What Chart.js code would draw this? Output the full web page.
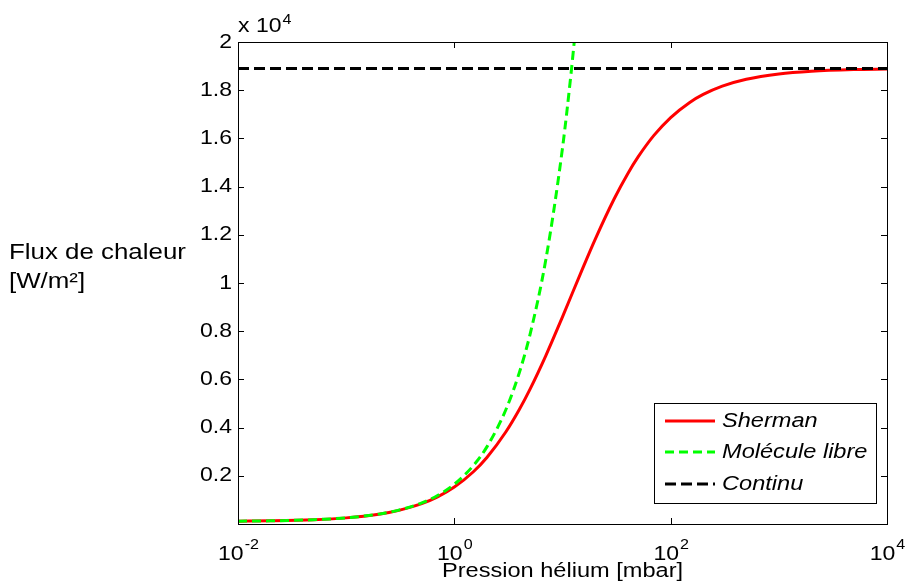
<!DOCTYPE html>
<html>
<head>
<meta charset="utf-8">
<script src="https://cdn.jsdelivr.net/npm/chart.js@4.4.1/dist/chart.umd.min.js"></script>
<style>
  body { margin: 0; background: #fff; }
  canvas { display: block; }
</style>
</head>
<body>
<canvas id="myChart" width="907" height="585"></canvas>
<script>
// Sherman (red, solid)
const pressureSherman = [0.01, 0.02, 0.05, 0.1, 0.2, 0.3, 0.5, 0.7, 1, 1.5, 2, 3, 4, 5, 7, 10, 15, 20, 30, 40, 50, 70, 100, 150, 200, 300, 500, 1000, 2000, 5000, 10000];
const fluxSherman = [115, 131, 177, 254, 405, 554, 844, 1126, 1532, 2169, 2761, 3828, 4762, 5588, 6980, 8596, 10495, 11803, 13487, 14526, 15230, 16124, 16866, 17494, 17825, 18170, 18455, 18675, 18787, 18855, 18877];

// Molecule libre (green, dashed)
const pressureLibre = [0.01, 0.02, 0.05, 0.1, 0.2, 0.3, 0.5, 0.7, 1, 1.5, 2, 3, 4, 5, 7, 10, 12, 13];
const fluxLibre = [116, 131, 178, 255, 410, 565, 875, 1185, 1650, 2425, 3200, 4750, 6300, 7850, 10950, 15600, 18700, 20250];

// Continu (black, dashed)
const pressureContinu = [0.01, 10000];
const fluxContinu = [18900, 18900];

// axes
const xTicks = [0.01, 1, 100, 10000];
const xTickExp = ['-2', '0', '2', '4'];
const yTicks = [2000, 4000, 6000, 8000, 10000, 12000, 14000, 16000, 18000, 20000];
const yTickLabels = ['0.2', '0.4', '0.6', '0.8', '1', '1.2', '1.4', '1.6', '1.8', '2'];

const FONT = "'Liberation Sans', Arial, sans-serif";
const SX = 1.15; // the reference text is a bit wide

function toPoints(xs, ys) {
    return xs.map((x, i) => ({ x: x, y: ys[i] }));
}

function drawText(ctx, str, x, y, size, align, baseline, italic) {
    ctx.save();
    ctx.font = (italic ? 'italic ' : '') + size + 'px ' + FONT;
    ctx.fillStyle = '#000';
    ctx.textAlign = align || 'left';
    ctx.textBaseline = baseline || 'alphabetic';
    ctx.translate(x, y);
    ctx.scale(SX, 1);
    ctx.fillText(str, 0, 0);
    ctx.restore();
}

function textWidth(ctx, str, size) {
    ctx.save();
    ctx.font = size + 'px ' + FONT;
    const w = ctx.measureText(str).width * SX;
    ctx.restore();
    return w;
}

const matlabLook = {
    id: 'matlabLook',
    afterDraw(chart) {
        const ctx = chart.ctx;
        const area = chart.chartArea;
        const xs = chart.scales.x;
        const ys = chart.scales.y;
        const tick = 6;

        ctx.save();
        ctx.strokeStyle = '#000';
        ctx.lineWidth = 1;
        ctx.setLineDash([]);
        ctx.strokeRect(area.left + 0.5, area.top + 0.5, area.right - area.left, area.bottom - area.top);

        ctx.beginPath();
        xTicks.forEach(v => {
            const px = Math.round(xs.getPixelForValue(v)) + 0.5;
            ctx.moveTo(px, area.bottom);
            ctx.lineTo(px, area.bottom - tick);
            ctx.moveTo(px, area.top);
            ctx.lineTo(px, area.top + tick);
        });
        yTicks.forEach(v => {
            const py = Math.round(ys.getPixelForValue(v)) + 0.5;
            ctx.moveTo(area.left, py);
            ctx.lineTo(area.left + tick, py);
            ctx.moveTo(area.right, py);
            ctx.lineTo(area.right - tick, py);
        });
        ctx.stroke();
        ctx.restore();

        // y tick labels
        yTicks.forEach((v, i) => {
            drawText(ctx, yTickLabels[i], area.left - 6, ys.getPixelForValue(v), 20, 'right', 'middle');
        });

        // x tick labels: 10 with exponent
        xTicks.forEach((v, i) => {
            const px = xs.getPixelForValue(v);
            const wBase = textWidth(ctx, '10', 20);
            const wExp = textWidth(ctx, xTickExp[i], 14);
            const start = px - (wBase + wExp) / 2;
            drawText(ctx, '10', start, 560, 20);
            drawText(ctx, xTickExp[i], start + wBase + 1, 549, 14);
        });

        // multiplier above the y axis
        const wx = textWidth(ctx, 'x 10', 20);
        drawText(ctx, 'x 10', area.left, 32, 20);
        drawText(ctx, '4', area.left + wx + 1, 24, 14);

        // axis titles
        drawText(ctx, 'Pression hélium [mbar]', (area.left + area.right) / 2, 577, 20.5, 'center');
        drawText(ctx, 'Flux de chaleur', 9, 259, 22.5);
        drawText(ctx, '[W/m²]', 9, 288, 22.5);

        // legend
        const box = { left: 654, top: 403, right: 876, bottom: 503 };
        ctx.save();
        ctx.fillStyle = '#fff';
        ctx.fillRect(box.left, box.top, box.right - box.left, box.bottom - box.top);
        ctx.strokeStyle = '#000';
        ctx.lineWidth = 1;
        ctx.strokeRect(box.left + 0.5, box.top + 0.5, box.right - box.left, box.bottom - box.top);
        ctx.restore();

        const rows = [421, 452, 484];
        chart.data.datasets.forEach((ds, i) => {
            const y = rows[i];
            ctx.save();
            ctx.strokeStyle = ds.borderColor;
            ctx.lineWidth = ds.borderWidth;
            ctx.setLineDash(ds.borderDash || []);
            ctx.beginPath();
            ctx.moveTo(665, y);
            ctx.lineTo(715, y);
            ctx.stroke();
            ctx.restore();
            drawText(ctx, ds.label, 722, y, 20.5, 'left', 'middle', true);
        });
    }
};

const ctx = document.getElementById('myChart').getContext('2d');
const myChart = new Chart(ctx, {
    type: 'line',
    data: {
        datasets: [{
            label: 'Sherman',
            data: toPoints(pressureSherman, fluxSherman),
            borderColor: '#ff0000',
            borderWidth: 3,
            pointRadius: 0,
            cubicInterpolationMode: 'monotone',
            order: 2
        }, {
            label: 'Molécule libre',
            data: toPoints(pressureLibre, fluxLibre),
            borderColor: '#00ff00',
            borderWidth: 3,
            borderDash: [9, 5],
            pointRadius: 0,
            cubicInterpolationMode: 'monotone',
            order: 1
        }, {
            label: 'Continu',
            data: toPoints(pressureContinu, fluxContinu),
            borderColor: '#000000',
            borderWidth: 3,
            borderDash: [11, 5],
            pointRadius: 0,
            order: 0
        }]
    },
    options: {
        responsive: false,
        animation: false,
        layout: { padding: { left: 0, right: 20, top: 42, bottom: 0 } },
        plugins: {
            legend: { display: false },
            tooltip: { enabled: false }
        },
        scales: {
            x: {
                type: 'logarithmic',
                min: 0.01,
                max: 10000,
                grid: { display: false },
                border: { display: false },
                ticks: { display: false },
                afterFit: (scale) => { scale.height = 61; }
            },
            y: {
                type: 'linear',
                min: 0,
                max: 20000,
                grid: { display: false },
                border: { display: false },
                ticks: { display: false },
                afterFit: (scale) => { scale.width = 238; }
            }
        }
    },
    plugins: [matlabLook]
});
</script>
</body>
</html>
